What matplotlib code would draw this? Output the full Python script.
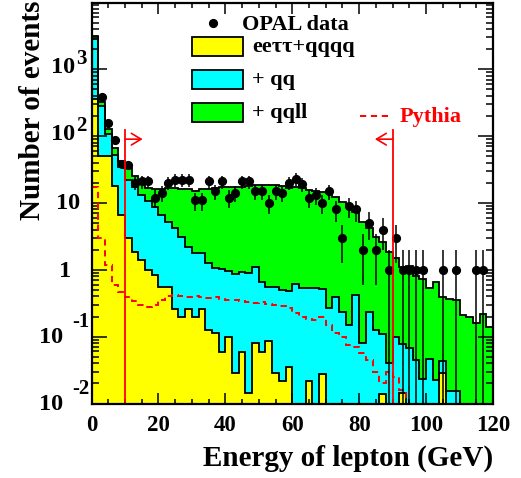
import numpy as np
import matplotlib
matplotlib.use("Agg")
import matplotlib.pyplot as plt
from matplotlib.ticker import MultipleLocator, LogLocator, NullFormatter, FixedLocator
from matplotlib.patches import Rectangle, FancyArrowPatch
from matplotlib.lines import Line2D

# ---- binning: 2 GeV bins from 0 to 120 GeV ----
bin_edges = np.arange(0, 122, 2)

# expected events per bin for each background component
eett_qqqq = [356, 50, 50, 18, 6.6, 2.95, 1.84, 1.40, 0.99, 0.83,
             0.56, 0.56, 0.26, 0.20, 0.255, 0.20, 0.255, 0.125, 0.113, 0.059,
             0.10, 0.029, 0.058, 0.0145, 0.081, 0.059, 0.086, 0.029, 0.022, 0.035,
             0, 0, 0.022, 0, 0.028, 0, 0, 0, 0, 0,
             0, 0, 0, 0.014, 0, 0, 0.0144, 0, 0, 0,
             0, 0, 0.029, 0, 0, 0, 0, 0, 0, 0]
qq = [2456, 232, 57, 34, 28, 19, 15.5, 11.7, 9.7, 7.85,
      6.0, 4.6, 3.95, 2.92, 1.96, 1.56, 1.50, 1.12, 0.94, 0.96,
      0.87, 0.83, 0.87, 0.89, 1.01, 0.60, 0.46, 0.52, 0.475, 0.445,
      0.62, 0.53, 0.52, 0.53, 0.48, 0.264, 0.394, 0.235, 0.149, 0.418,
      0.080, 0.230, 0.125, 0.095, 0.040, 0.099, 0.063, 0.0665, 0.0445, 0.023,
      0.0456, 0.0223, 0.0147, 0.0155, 0.0155, 0, 0, 0, 0, 0]
qqll = [338, 45, 19, 13.5, 7.9, 11.0, 8.4, 7.4, 6.3, 7.7,
        9.8, 11.5, 12.5, 13.0, 13.9, 13.3, 14.3, 14.9, 15.6, 16.3,
        16.3, 16.4, 16.4, 17.0, 17.4, 17.8, 18.0, 18.0, 17.4, 16.0,
        16.5, 16.0, 15.1, 14.7, 14.2, 13.6, 12.0, 10.2, 9.15, 7.0,
        5.12, 3.97, 2.98, 2.49, 1.80, 1.38, 1.03, 1.07, 0.76, 0.695,
        0.481, 0.639, 0.343, 0.352, 0.336, 0.210, 0.198, 0.158, 0.217, 0.140]

# observed OPAL events per bin
opal_data = [0, 390, 155, 87, 38, 37, 20, 21, 21, 12,
             14, 20, 22, 22, 22, 11, 11, 21, 15, 21,
             12, 14, 21, 21, 15, 15, 10, 15, 14, 20,
             23, 19, 12, 13, 10, 15, 8, 3, 9, 8,
             2, 5, 2, 4, 1, 3, 1, 1, 1, 1,
             0, 0, 1, 0, 1, 0, 0, 1, 1, 0]

# Pythia prediction per bin, plus the content of the bin just above 120 GeV
pythia = [17.2, 3.0, 1.17, 0.60, 0.46, 0.39, 0.34, 0.30, 0.28, 0.30,
          0.35, 0.40, 0.42, 0.40, 0.39, 0.40, 0.39, 0.38, 0.39, 0.36,
          0.35, 0.35, 0.34, 0.33, 0.32, 0.33, 0.31, 0.30, 0.286, 0.264,
          0.225, 0.20, 0.185, 0.177, 0.195, 0.15, 0.113, 0.10, 0.075, 0.07,
          0.056, 0.045, 0.030, 0.020, 0.030, 0.025, 0.016, 0, 0, 0,
          0, 0, 0, 0, 0, 0, 0, 0, 0, 0]
pythia_overflow = 1.0

# selection window on the lepton energy
cut_low, cut_high = 10, 90
cut_line_top = 125
cut_arrow_level = 90
cut_arrow_len = 5.3

x_ticks = [0, 20, 40, 60, 80, 100, 120]
y_ticks = [1e-2, 1e-1, 1, 10, 1e2, 1e3]

legend_labels = ["OPAL data", "ee\u03c4\u03c4+qqqq", "+ qq", "+ qqll", "Pythia"]

YELLOW = "#ffff00"
CYAN = "#00ffff"
GREEN = "#00ff00"
RED = "#ff0000"
FONT = "Liberation Serif"

W, H = 521, 478
fig = plt.figure(figsize=(W / 100, H / 100), dpi=100)


def fx(px):
    return px / W


def fy(py):
    return 1 - py / H


ax_l, ax_r, ax_t, ax_b = 91.5, 493.0, 3.0, 403.5
ax = fig.add_axes([fx(ax_l), fy(ax_b), (ax_r - ax_l) / W, (ax_b - ax_t) / H])
ax.set_yscale("log")
ax.set_xlim(0, 120)
ax.set_ylim(1e-2, 9800)

# ---- stacked backgrounds ----
s1 = np.array(eett_qqqq, float)
s2 = s1 + np.array(qq, float)
s3 = s2 + np.array(qqll, float)
for vals, col in [(s3, GREEN), (s2, CYAN), (s1, YELLOW)]:
    ax.stairs(vals, bin_edges, baseline=0, fill=True, facecolor=col,
              edgecolor="none", zorder=1)
    ax.stairs(vals, bin_edges, baseline=0, fill=False, color="black",
              lw=1.3, zorder=2)

# ---- Pythia prediction (dashed histogram) ----
p_edges = np.append(bin_edges, bin_edges[-1] + 2)
p_vals = np.append(np.array(pythia, float), pythia_overflow)
ax.stairs(p_vals, p_edges, baseline=None, color=RED, lw=1.4,
          linestyle=(0, (3.2, 2.4)), zorder=3)

# ---- data points with Poisson errors ----
data = np.array(opal_data, float)
centers = 0.5 * (bin_edges[:-1] + bin_edges[1:])
m = data > 0
ax.errorbar(centers[m], data[m], yerr=np.sqrt(data[m]), fmt="o", color="black",
            ms=5.6, elinewidth=1.1, capsize=0, zorder=5)

# ---- selection cuts ----
for xc, direction in [(cut_low, +1), (cut_high, -1)]:
    ax.plot([xc, xc], [1e-2, cut_line_top], color=RED, lw=1.3, zorder=6)
    arr = FancyArrowPatch((xc, cut_arrow_level),
                          (xc + direction * cut_arrow_len, cut_arrow_level),
                          arrowstyle="->,head_length=0.7,head_width=0.42",
                          mutation_scale=10, color=RED, lw=1.2,
                          shrinkA=0, shrinkB=0, zorder=6)
    ax.add_patch(arr)

# ---- axes styling ----
for sp in ax.spines.values():
    sp.set_linewidth(1.6)
    sp.set_zorder(10)
ax.xaxis.set_major_locator(FixedLocator(x_ticks))
ax.xaxis.set_minor_locator(MultipleLocator(5))
ax.yaxis.set_major_locator(FixedLocator(y_ticks))
ax.yaxis.set_minor_locator(LogLocator(base=10, subs=np.arange(2, 10), numticks=20))
ax.yaxis.set_minor_formatter(NullFormatter())
ax.set_yticklabels([])
ax.tick_params(axis="both", which="both", direction="in", top=True, right=True,
               width=1.1, colors="black", zorder=11)
ax.tick_params(axis="y", which="major", length=10.5)
ax.tick_params(axis="y", which="minor", length=5)
ax.tick_params(axis="x", which="major", length=7.8, pad=8.5)
ax.tick_params(axis="x", which="minor", length=3.8)
ax.set_xticklabels([str(t) for t in x_ticks], fontfamily=FONT,
                   fontweight="bold", fontsize=16.5)

# y tick labels in "10 + raised exponent" form
to_fig = ax.transData + fig.transFigure.inverted()
for v in y_ticks:
    e = int(round(np.log10(v)))
    _, yf = to_fig.transform((0, v))
    ypx = (1 - yf) * H
    kw = dict(fontfamily=FONT, fontweight="bold", va="center")
    if e == 0:
        fig.text(fx(65.5), fy(ypx + 1.5), "1", ha="center", fontsize=17.5, **kw)
    elif e == 1:
        fig.text(fx(68.5), fy(ypx + 0.5), "10", ha="center", fontsize=17.5, **kw)
    elif e > 1:
        fig.text(fx(75.5), fy(ypx - 2), "10", ha="right", fontsize=17.5, **kw)
        fig.text(fx(76), fy(ypx - 10), str(e), ha="left", fontsize=15, **kw)
    else:
        fig.text(fx(63.5), fy(ypx + 1), "10", ha="right", fontsize=17.5, **kw)
        fig.text(fx(72.5), fy(ypx - 15), str(e), ha="left", fontsize=15, **kw)

# axis titles
fig.text(fx(493), fy(466), "Energy of lepton (GeV)", ha="right", va="baseline",
         fontfamily=FONT, fontweight="bold", fontsize=21)
fig.text(fx(33), fy(1), "Number of events", rotation=90, ha="center", va="top",
         fontfamily=FONT, fontweight="bold", fontsize=21)

# ---- legend ----
tkw = dict(fontfamily=FONT, fontweight="bold", fontsize=16, va="baseline")
fig.add_artist(Line2D([fx(213.3)], [fy(23.3)], marker="o", ms=5.6,
                      color="black", transform=fig.transFigure))
fig.text(fx(241.5), fy(30), legend_labels[0], **tkw)
for (ytop, col, lab, base) in [(37, YELLOW, legend_labels[1], 52),
                               (70, CYAN, legend_labels[2], 85),
                               (103, GREEN, legend_labels[3], 118)]:
    fig.add_artist(Rectangle((fx(192), fy(ytop + 18.5)), 51 / W, 18.5 / H,
                             transform=fig.transFigure, facecolor=col,
                             edgecolor="black", lw=1.3))
    fig.text(fx(252.5), fy(base), lab, **tkw)
fig.add_artist(Line2D([fx(360), fx(390)], [fy(116), fy(116)], color=RED,
                      lw=1.4, linestyle=(0, (3.2, 2.4)),
                      transform=fig.transFigure))
fig.text(fx(399.5), fy(122), legend_labels[4], color=RED, **tkw)

fig.savefig("out.png", dpi=100)
